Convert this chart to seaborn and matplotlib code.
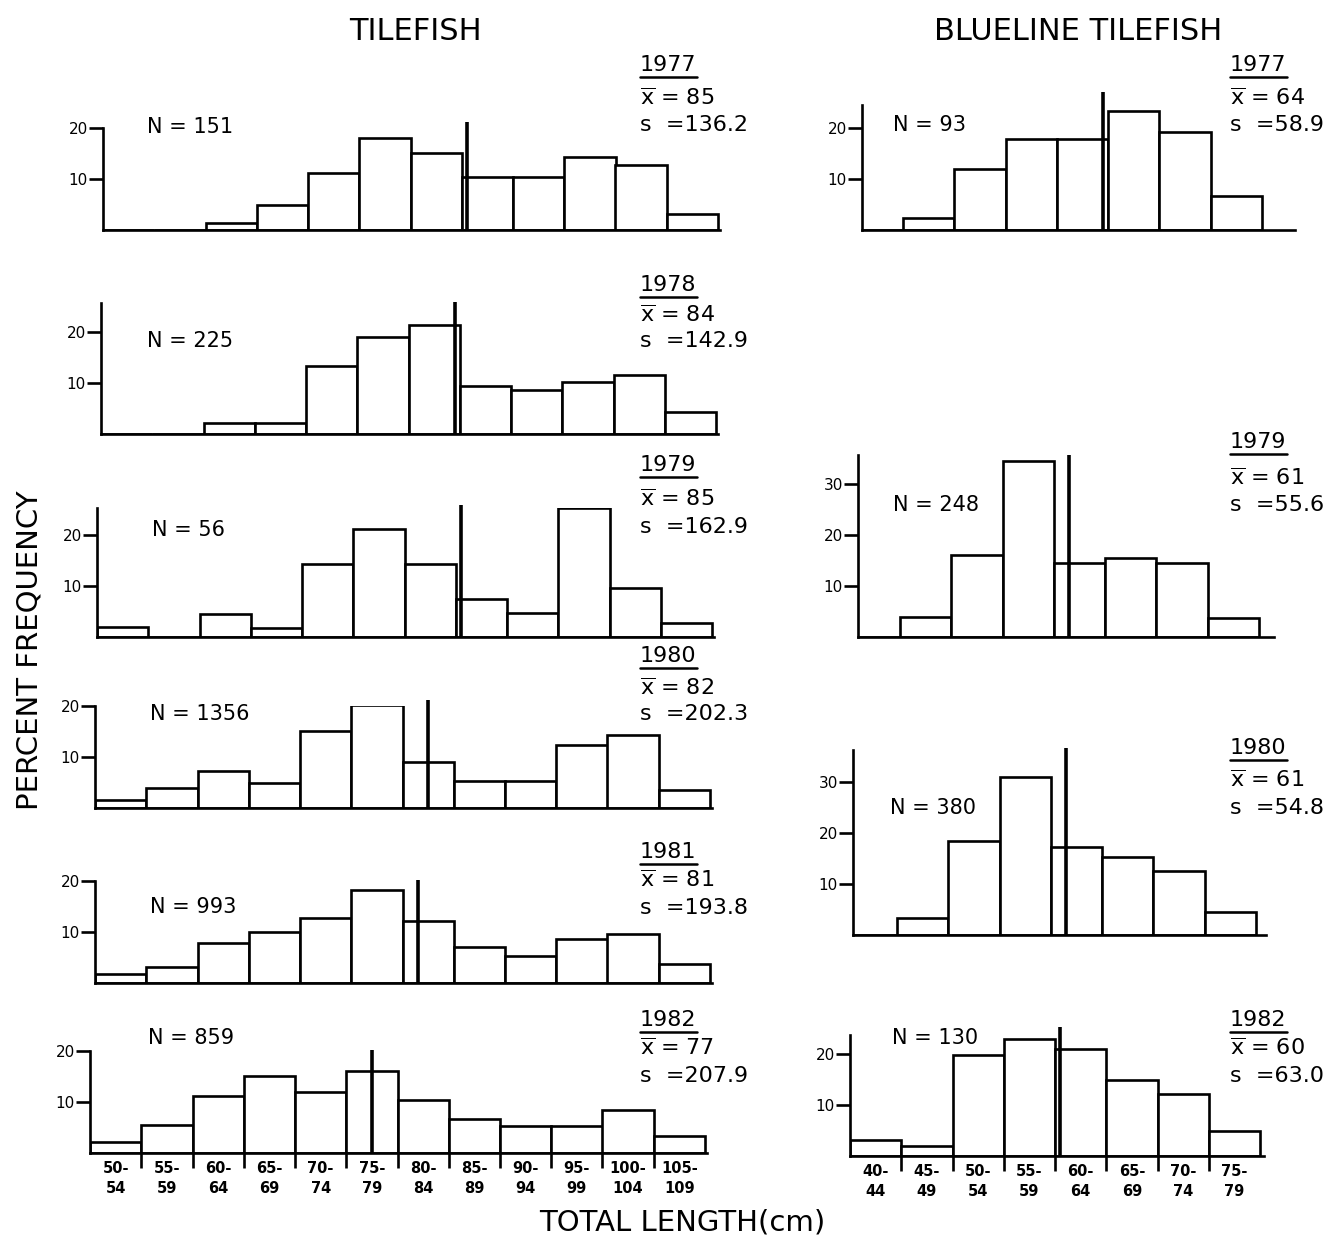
import numpy as np
import pandas as pd
import matplotlib
matplotlib.use("Agg")
import matplotlib.pyplot as plt
from matplotlib.lines import Line2D
import seaborn as sns

# ---------------- data: percent frequency by 5-cm total length class ----------------
tile_lower = [50, 55, 60, 65, 70, 75, 80, 85, 90, 95, 100, 105]
tile_classes = ["50-\n54", "55-\n59", "60-\n64", "65-\n69", "70-\n74", "75-\n79",
                "80-\n84", "85-\n89", "90-\n94", "95-\n99", "100-\n104", "105-\n109"]

blue_lower = [40, 45, 50, 55, 60, 65, 70, 75]
blue_classes = ["40-\n44", "45-\n49", "50-\n54", "55-\n59",
                "60-\n64", "65-\n69", "70-\n74", "75-\n79"]

tile_1977 = [0, 0, 1.4, 4.9, 11.2, 18.0, 15.1, 10.4, 10.4, 14.3, 12.8, 3.1]
tile_1978 = [0, 0, 2.2, 2.2, 13.4, 19.1, 21.4, 9.5, 8.6, 10.2, 11.5, 4.3]
tile_1979 = [1.9, 0, 4.6, 1.7, 14.3, 21.2, 14.4, 7.5, 4.7, 25.2, 9.6, 2.7]
tile_1980 = [1.5, 4.0, 7.2, 5.0, 15.0, 20.2, 9.0, 5.2, 5.2, 12.4, 14.3, 3.6]
tile_1981 = [1.8, 3.1, 7.9, 10.0, 12.7, 18.2, 12.1, 7.1, 5.2, 8.7, 9.6, 3.8]
tile_1982 = [2.2, 5.4, 11.1, 15.1, 12.0, 16.1, 10.3, 6.6, 5.2, 5.2, 8.4, 3.3]

blue_1977 = [0, 2.4, 12.0, 17.8, 17.8, 23.4, 19.2, 6.6]
blue_1979 = [0, 4.0, 16.0, 34.5, 14.5, 15.5, 14.5, 3.7]
blue_1980 = [0, 3.4, 18.4, 31.0, 17.3, 15.3, 12.6, 4.6]
blue_1982 = [3.2, 1.9, 19.8, 22.9, 20.9, 14.9, 12.2, 5.0]

tile_years = ["1977", "1978", "1979", "1980", "1981", "1982"]
tile_n = [151, 225, 56, 1356, 993, 859]
tile_mean = [85, 84, 85, 82, 81, 77]
tile_s = ["136.2", "142.9", "162.9", "202.3", "193.8", "207.9"]

blue_years = ["1977", "1979", "1980", "1982"]
blue_n = [93, 248, 380, 130]
blue_mean = [64, 61, 61, 60]
blue_s = ["58.9", "55.6", "54.8", "63.0"]

# ---------------- style ----------------
sns.set_theme(style="ticks")
plt.rcParams["font.family"] = ["DejaVu Sans"]
plt.rcParams["mathtext.fontset"] = "dejavusans"
plt.rcParams.update({
    "text.color": "black", "axes.edgecolor": "black",
    "xtick.color": "black", "ytick.color": "black",
    "axes.labelcolor": "black",
})

W, H = 1341, 1244
fig = plt.figure(figsize=(W / 100, H / 100), dpi=100)
fig.patch.set_facecolor("white")

PX_X = 10.25   # pixels per cm on the length axis
PX_Y = 5.1     # pixels per percent
LW = 1.9


def px_text(x, y, s, **kw):
    return fig.text(x / W, 1 - y / H, s, **kw)


def add_panel(lower, pct, classes, mean, line_top, left_px, base_px, xlim, ytop,
              yticks, bottom_row):
    width = (xlim[1] - xlim[0]) * PX_X
    height = ytop * PX_Y
    ax = fig.add_axes([left_px / W, 1 - base_px / H, width / W, height / H])
    lower = np.asarray(lower, dtype=float)
    edges = np.append(lower - 0.5, lower[-1] + 4.5)
    df = pd.DataFrame({"length": lower + 2, "pct": pct})
    sns.histplot(data=df, x="length", weights="pct", bins=list(edges), ax=ax,
                 fill=True, color="white", edgecolor="black", linewidth=LW,
                 alpha=1)
    ax.vlines(mean, 0, line_top, color="black", lw=2.6, clip_on=False, zorder=5)
    ax.set_xlim(*xlim)
    ax.set_ylim(0, ytop)
    ax.set_xlabel("")
    ax.set_ylabel("")
    ax.patch.set_alpha(0)
    for side in ("top", "right"):
        ax.spines[side].set_visible(False)
    for side in ("left", "bottom"):
        ax.spines[side].set_linewidth(LW)
    ax.set_yticks(yticks)
    ax.tick_params(axis="y", direction="out", length=10, width=LW,
                   labelsize=11, pad=1)
    if bottom_row:
        ax.set_xticks(edges[1:-1])
        ax.set_xticklabels([])
        ax.set_xticks(lower + 2, minor=True)
        ax.set_xticklabels(classes, minor=True, fontsize=10.5, fontweight="bold",
                           linespacing=1.35)
        ax.tick_params(axis="x", which="major", direction="out", length=11,
                       width=LW)
        ax.tick_params(axis="x", which="minor", length=0, pad=6)
    else:
        ax.set_xticks([])
    return ax


# tilefish panels: left edge (px), baseline (px), y-axis top (%), mean-line top (%)
tile_data = [tile_1977, tile_1978, tile_1979, tile_1980, tile_1981, tile_1982]
tile_left = [103, 101, 97, 95, 95, 90]
tile_base = [230, 434, 637, 808, 983, 1153]
tile_ytop = [20, 25.7, 25.3, 20, 20, 20]
tile_line = [21.2, 25.9, 25.9, 21.2, 20.2, 20.2]

for i in range(6):
    add_panel(tile_lower, tile_data[i], tile_classes, tile_mean[i], tile_line[i],
              tile_left[i], tile_base[i], (49.5, 109.7), tile_ytop[i], [10, 20],
              bottom_row=(i == 5))

blue_data = [blue_1977, blue_1979, blue_1980, blue_1982]
blue_left = [862, 858, 853, 850]
blue_base = [230, 637, 935, 1156]
blue_xlim = [(40.5, 82.7), (40.4, 81.0), (40.2, 80.5), (39.5, 79.9)]
blue_ytop = [24.5, 35.7, 36.2, 23.8]
blue_line = [27.0, 35.7, 36.7, 25.3]
blue_ticks = [[10, 20], [10, 20, 30], [10, 20, 30], [10, 20]]

for i in range(4):
    add_panel(blue_lower, blue_data[i], blue_classes, blue_mean[i], blue_line[i],
              blue_left[i], blue_base[i], blue_xlim[i], blue_ytop[i], blue_ticks[i],
              bottom_row=(i == 3))

# ---------------- annotations ----------------
FS_N = 15
FS_STAT = 16
tile_n_pos = [(147, 127), (147, 341), (152, 530), (150, 714), (150, 907), (148, 1038)]
blue_n_pos = [(893, 125), (893, 505), (890, 808), (892, 1038)]
tile_stat_y = [(65, 98, 125), (285, 315, 341), (465, 499, 527),
               (656, 688, 714), (852, 880, 908), (1020, 1048, 1076)]
blue_stat_y = [(65, 98, 125), (442, 478, 505), (748, 780, 808), (1020, 1048, 1076)]

year_texts = []


def stats_block(x, ys, year, mean, s):
    t = px_text(x, ys[0], year, fontsize=FS_STAT, va="center", ha="left")
    year_texts.append(t)
    px_text(x, ys[1], r"$\overline{\mathrm{x}}$ = " + str(mean), fontsize=FS_STAT,
            va="center", ha="left")
    px_text(x, ys[2], "s  =" + s, fontsize=FS_STAT, va="center", ha="left")


for i in range(6):
    px_text(tile_n_pos[i][0], tile_n_pos[i][1], f"N = {tile_n[i]}", fontsize=FS_N,
            va="center", ha="left")
    stats_block(640, tile_stat_y[i], tile_years[i], tile_mean[i], tile_s[i])

for i in range(4):
    px_text(blue_n_pos[i][0], blue_n_pos[i][1], f"N = {blue_n[i]}", fontsize=FS_N,
            va="center", ha="left")
    stats_block(1230, blue_stat_y[i], blue_years[i], blue_mean[i], blue_s[i])

px_text(415, 32, "TILEFISH", fontsize=22, ha="center", va="center")
px_text(1078, 32, "BLUELINE TILEFISH", fontsize=22, ha="center", va="center")
px_text(30, 650, "PERCENT FREQUENCY", fontsize=21, ha="center", va="center",
        rotation=90)
px_text(682, 1222, "TOTAL LENGTH(cm)", fontsize=21, ha="center", va="center")

# underline each year label
renderer = fig.canvas.get_renderer()
for t in year_texts:
    bb = t.get_window_extent(renderer)
    y = bb.y0 - 2
    fig.add_artist(Line2D([bb.x0 / W, bb.x1 / W], [y / H, y / H],
                          transform=fig.transFigure, color="black", lw=1.8))

fig.savefig("out.png", dpi=100, facecolor="white")
